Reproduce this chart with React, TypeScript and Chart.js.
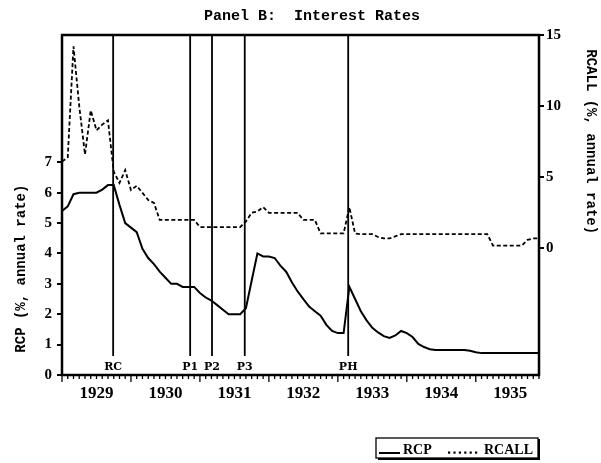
import React, { useEffect, useRef } from "react";
import { Chart, registerables } from "chart.js";

Chart.register(...registerables);

// ---- Data (monthly, Jan 1929 .. Dec 1935) ----
const START_YEAR = 1929;
const YEAR_LABELS = ["1929", "1930", "1931", "1932", "1933", "1934", "1935"];

// RCP: commercial paper rate (% annual rate), left axis
const RCP = [
  5.4, 5.55, 5.95, 6.0, 6.0, 6.0, 6.0, 6.1, 6.25, 6.25, 5.6, 5.0,
  4.85, 4.7, 4.15, 3.85, 3.65, 3.4, 3.2, 3.0, 3.0, 2.9, 2.9, 2.9,
  2.7, 2.55, 2.45, 2.3, 2.15, 2.0, 2.0, 2.0, 2.2, 3.1, 4.0, 3.9,
  3.9, 3.85, 3.6, 3.4, 3.05, 2.75, 2.5, 2.25, 2.1, 1.95, 1.65, 1.45,
  1.38, 1.38, 2.9, 2.5, 2.1, 1.8, 1.55, 1.4, 1.28, 1.22, 1.3, 1.45,
  1.38, 1.25, 1.02, 0.92, 0.85, 0.82, 0.82, 0.82, 0.82, 0.82, 0.82, 0.8,
  0.75, 0.72, 0.72, 0.72, 0.72, 0.72, 0.72, 0.72, 0.72, 0.72, 0.72, 0.72,
];

// RCALL: call money rate (% annual rate), right axis
const RCALL = [
  6.1, 6.4, 14.2, 10.0, 6.6, 9.7, 8.3, 8.7, 9.0, 5.4, 4.6, 5.5,
  4.1, 4.4, 3.9, 3.4, 3.2, 2.0, 2.0, 2.0, 2.0, 2.0, 2.0, 2.0,
  1.5, 1.5, 1.5, 1.5, 1.5, 1.5, 1.5, 1.5, 1.9, 2.5, 2.6, 2.9,
  2.5, 2.5, 2.5, 2.5, 2.5, 2.5, 2.0, 2.0, 2.0, 1.05, 1.05, 1.05,
  1.05, 1.05, 2.9, 1.05, 1.0, 1.0, 1.0, 0.8, 0.7, 0.7, 0.85, 1.0,
  1.0, 1.0, 1.0, 1.0, 1.0, 1.0, 1.0, 1.0, 1.0, 1.0, 1.0, 1.0,
  1.0, 1.0, 1.0, 0.2, 0.2, 0.2, 0.2, 0.2, 0.2, 0.6, 0.7, 0.7,
];

// Event markers (month index from Jan 1929)
const EVENT_LABELS = ["RC", "P1", "P2", "P3", "PH"];
const EVENT_MONTHS = [8.9, 22.3, 26.1, 31.8, 49.8];

const LEFT_TICKS = [0, 1, 2, 3, 4, 5, 6, 7];
const RIGHT_TICKS = [0, 5, 10, 15];

const TITLE = "Panel B:  Interest Rates";
const LEFT_TITLE = "RCP (%, annual rate)";
const RIGHT_TITLE = "RCALL (%, annual rate)";

const SERIF = '"Liberation Serif", "Times New Roman", serif';
const DSERIF = '"DejaVu Serif", serif';
const MONO = '"Liberation Mono", "Courier New", monospace';

const decorPlugin = {
  id: "decor",
  beforeDatasetsDraw(chart: any) {
    const { ctx, chartArea: a, scales } = chart;
    const xs = scales.x;
    ctx.save();
    ctx.strokeStyle = "#000";
    ctx.fillStyle = "#000";
    ctx.lineWidth = 1.8;
    EVENT_MONTHS.forEach((m, i) => {
      const px = xs.getPixelForValue(m);
      ctx.beginPath();
      ctx.moveTo(px, a.top);
      ctx.lineTo(px, a.bottom - 19);
      ctx.stroke();
      ctx.font = `bold 11px ${DSERIF}`;
      ctx.textAlign = "center";
      ctx.textBaseline = "alphabetic";
      ctx.fillText(EVENT_LABELS[i], px, a.bottom - 5);
    });
    ctx.restore();
  },
  afterDraw(chart: any) {
    const { ctx, chartArea: a, scales } = chart;
    const xs = scales.x;
    ctx.save();
    ctx.strokeStyle = "#000";
    ctx.fillStyle = "#000";

    // frame
    ctx.lineWidth = 2.5;
    ctx.strokeRect(a.left, a.top, a.right - a.left, a.bottom - a.top);

    // x tick marks: monthly minor, yearly major
    ctx.lineWidth = 1.3;
    const nMonths = RCP.length;
    for (let m = 0; m < nMonths; m++) {
      const px = xs.getPixelForValue(m);
      const len = m % 12 === 0 ? 7 : 4;
      ctx.beginPath();
      ctx.moveTo(px, a.bottom);
      ctx.lineTo(px, a.bottom + len);
      ctx.stroke();
    }

    // title
    ctx.font = `bold 15px ${MONO}`;
    ctx.textAlign = "center";
    ctx.textBaseline = "middle";
    ctx.fillText(TITLE, 312, 16);

    // left axis title
    const yl = scales.y;
    ctx.save();
    ctx.translate(21, (yl.getPixelForValue(0) + yl.getPixelForValue(7)) / 2);
    ctx.rotate(-Math.PI / 2);
    ctx.font = `bold 14px ${MONO}`;
    ctx.fillText(LEFT_TITLE, 0, 0);
    ctx.restore();

    // right axis title
    const yr = scales.y2;
    ctx.save();
    ctx.translate(591, (yr.getPixelForValue(0) + yr.getPixelForValue(15)) / 2);
    ctx.rotate(Math.PI / 2);
    ctx.font = `bold 14px ${MONO}`;
    ctx.fillText(RIGHT_TITLE, 0, 0);
    ctx.restore();

    // legend
    const lx = 376, ly = 438, lw = 162, lh = 20;
    ctx.lineWidth = 1.3;
    ctx.strokeRect(lx, ly, lw, lh);
    ctx.lineWidth = 2;
    ctx.beginPath();
    ctx.moveTo(lx + lw + 1, ly + 1);
    ctx.lineTo(lx + lw + 1, ly + lh + 1);
    ctx.lineTo(lx + 2, ly + lh + 1);
    ctx.stroke();
    ctx.lineWidth = 2;
    ctx.beginPath();
    ctx.moveTo(lx + 3, ly + 15);
    ctx.lineTo(lx + 24, ly + 15);
    ctx.stroke();
    ctx.font = `bold 14px ${SERIF}`;
    ctx.textAlign = "left";
    ctx.textBaseline = "alphabetic";
    ctx.fillText("RCP", lx + 27, ly + 16);
    for (let k = 0; k < 6; k++) {
      ctx.fillRect(lx + 72 + k * 5.4, ly + 13.5, 2.2, 2.2);
    }
    ctx.fillText("RCALL", lx + 108, ly + 16);
    ctx.restore();
  },
};

export default function App() {
  const canvasRef = useRef<HTMLCanvasElement | null>(null);

  useEffect(() => {
    if (!canvasRef.current) return;
    const rcpPts = RCP.map((v, i) => ({ x: i, y: v }));
    const callPts = RCALL.map((v, i) => ({ x: i, y: v }));
    const chart = new Chart(canvasRef.current, {
      type: "line",
      data: {
        datasets: [
          {
            label: "RCP",
            data: rcpPts,
            yAxisID: "y",
            borderColor: "#000",
            borderWidth: 2,
            pointRadius: 0,
            tension: 0,
            fill: false,
          },
          {
            label: "RCALL",
            data: callPts,
            yAxisID: "y2",
            borderColor: "#000",
            borderWidth: 1.8,
            borderDash: [4, 2.5],
            pointRadius: 0,
            tension: 0,
            fill: false,
          },
        ],
      },
      options: {
        responsive: false,
        animation: false,
        events: [],
        layout: { padding: { top: 35, left: 0, right: 0, bottom: 0 } },
        plugins: {
          legend: { display: false },
          title: { display: false },
          tooltip: { enabled: false },
        },
        scales: {
          x: {
            type: "linear",
            position: "bottom",
            min: 0,
            max: RCP.length - 1,
            grid: { display: false, drawTicks: false },
            border: { display: false },
            afterBuildTicks: (scale: any) => {
              scale.ticks = YEAR_LABELS.map((_, i) => ({ value: 6 + 12 * i }));
            },
            afterFit: (scale: any) => {
              scale.height = 88;
            },
            ticks: {
              autoSkip: false,
              maxRotation: 0,
              padding: 8,
              color: "#000",
              font: { family: SERIF, size: 17, weight: "bold" },
              callback: (v: any) => String(START_YEAR + Math.round((Number(v) - 6) / 12)),
            },
          },
          y: {
            type: "linear",
            position: "left",
            min: 0,
            max: 11.19,
            grid: {
              display: true,
              drawOnChartArea: false,
              drawTicks: true,
              tickLength: 5,
              color: "#000",
              lineWidth: 2,
            },
            border: { display: false },
            afterBuildTicks: (scale: any) => {
              scale.ticks = LEFT_TICKS.map((v) => ({ value: v }));
            },
            afterFit: (scale: any) => {
              scale.width = 62;
            },
            ticks: {
              padding: 5,
              color: "#000",
              font: { family: SERIF, size: 15, weight: "bold" },
            },
          },
          y2: {
            type: "linear",
            position: "right",
            min: -8.9,
            max: 15,
            grid: {
              display: true,
              drawOnChartArea: false,
              drawTicks: true,
              tickLength: 5,
              color: "#000",
              lineWidth: 2,
            },
            border: { display: false },
            afterBuildTicks: (scale: any) => {
              scale.ticks = RIGHT_TICKS.map((v) => ({ value: v }));
            },
            afterFit: (scale: any) => {
              scale.width = 62;
            },
            ticks: {
              padding: 2,
              color: "#000",
              font: { family: SERIF, size: 15, weight: "bold" },
            },
          },
        },
      } as any,
      plugins: [decorPlugin],
    });
    return () => chart.destroy();
  }, []);

  return (
    <div style={{ position: "fixed", left: 0, top: 0, width: 601, height: 463, background: "#fff" }}>
      <canvas ref={canvasRef} width={601} height={463} style={{ display: "block" }} />
    </div>
  );
}
